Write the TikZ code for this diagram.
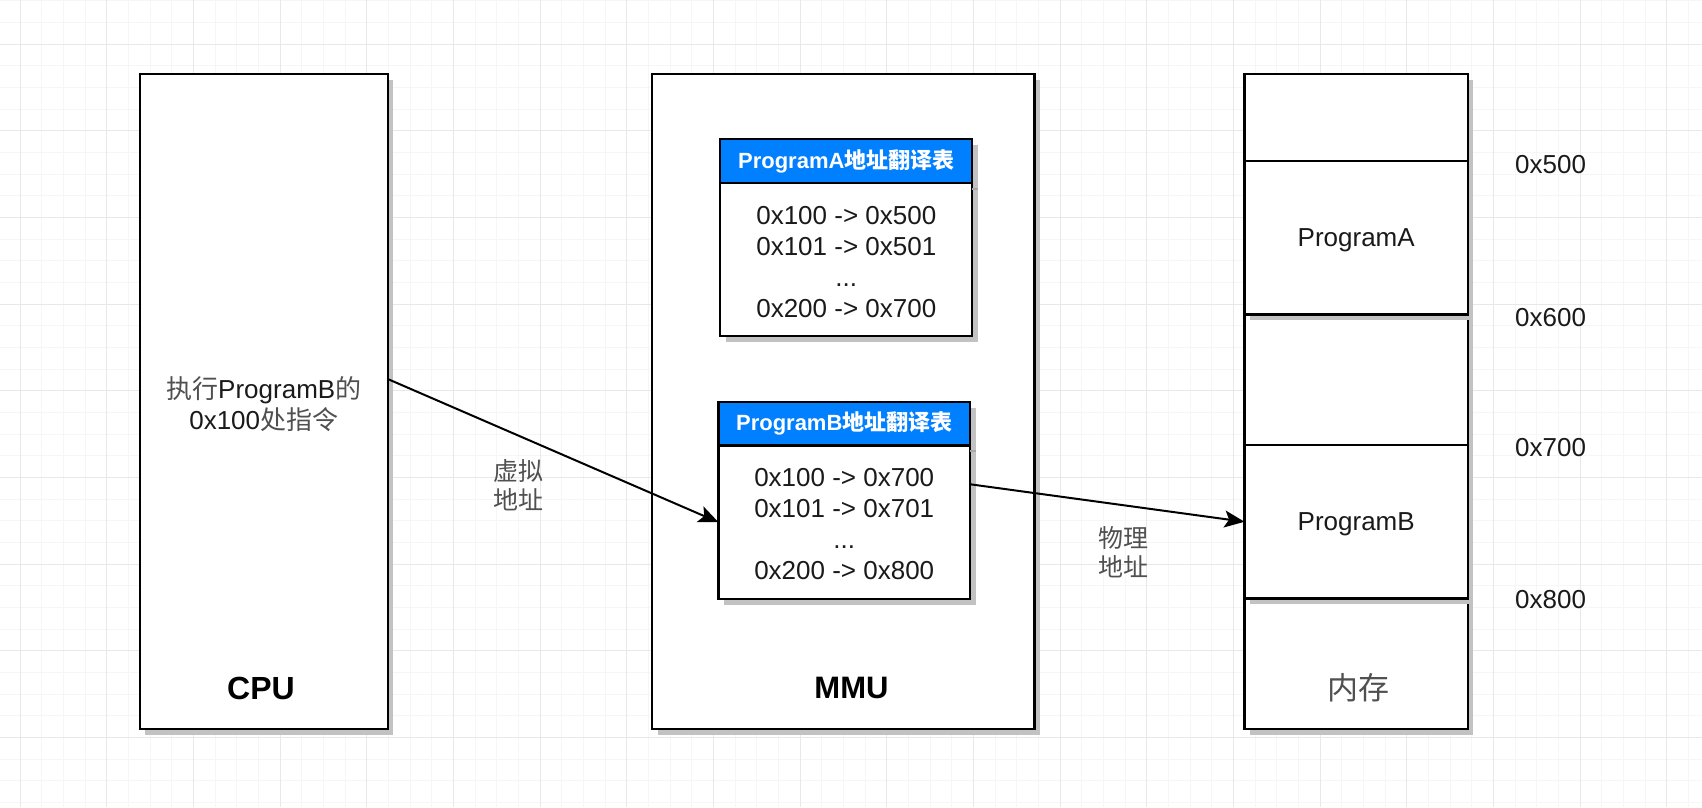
\documentclass[tikz,border=0pt]{standalone}
\usepackage{fontspec}
\setmainfont{Liberation Sans}
\newfontfamily\cjk{Noto Sans CJK SC}
\usetikzlibrary{arrows.meta,shadows,calc}
\definecolor{gridminor}{HTML}{F6F6F6}
\definecolor{gridmajor}{HTML}{E8E8E8}
\definecolor{shadowgray}{HTML}{C2C2C2}
\definecolor{hdrblue}{HTML}{007FFF}
\definecolor{txt}{HTML}{1A1A1A}
\definecolor{cjkgray}{HTML}{505050}
\newcommand{\myfs}[2]{\fontsize{#1}{#2}\selectfont}
\newcommand{\zh}[1]{{\color{cjkgray}\cjk #1}}
\begin{document}
\begin{tikzpicture}[x=1pt,y=-1pt,
  minorline/.style={draw=gridminor,line width=1pt},
  majorline/.style={draw=gridmajor,line width=1pt},
  box/.style={draw=black,line width=2.2pt,fill=white,inner sep=0pt,outer sep=0pt,
    general shadow={fill=shadowgray,shadow xshift=5.5pt,shadow yshift=-5.5pt}},
  hdr/.style={box,fill=hdrblue,text=white,font=\bfseries\myfs{22}{26}},
  rows/.style={align=center,text=txt,font=\myfs{26}{31},inner sep=0pt},
  plain/.style={text=txt,font=\myfs{26}{31},inner sep=0pt},
  big/.style={text=black,font=\bfseries\myfs{32}{36},inner sep=0pt},
  conn/.style={line width=2pt,draw=black,-{Stealth[length=20pt,width=17pt,inset=4.5pt]}}
]
\useasboundingbox (0,0) rectangle (1702,807);
\fill[white] (0,0) rectangle (1702,807);
% grid
\foreach \i in {0,...,79} \draw[minorline] ({-1.667+21.667*\i},0) -- ({-1.667+21.667*\i},807);
\foreach \i in {0,...,37} \draw[minorline] (0,{0.667+21.667*\i}) -- (1702,{0.667+21.667*\i});
\foreach \i in {0,...,19} \draw[majorline] ({20+86.667*\i},0) -- ({20+86.667*\i},807);
\foreach \i in {0,...,8} \draw[majorline] (0,{44+86.667*\i}) -- (1702,{44+86.667*\i});

% CPU
\node[box,minimum width=248pt,minimum height=655pt] (cpu) at (263.75,401.5) {};
\node[plain,align=center] (cputxt) at (263.75,404) {\zh{执行}ProgramB\zh{的}\\0x100\zh{处指令}};
\node[big] (cpulbl) at (261,688) {CPU};

% MMU
\node[box,minimum width=382.5pt,minimum height=655pt] (mmu) at (843.25,401.5) {};
\node[big,font=\bfseries\myfs{31}{36}] (mmulbl) at (851.5,688) {MMU};

% Table A
\node[hdr,minimum width=252pt,minimum height=44pt] (hdrA) at (846.3,161.3) {ProgramA{\cjk 地址翻译表}};
\node[box,minimum width=252pt,minimum height=152.7pt] (bodyA) at (846.3,259.65) {};
\draw[draw=gray!70,line width=2pt] ([yshift=-5.5pt]hdrA.south east) -- ++(5.5,0);
\node[rows] (rowsA) at ([yshift=-2pt]bodyA.center) {0x100 -> 0x500\\0x101 -> 0x501\\...\\0x200 -> 0x700};

% Table B
\node[hdr,minimum width=251.5pt,minimum height=43.5pt] (hdrB) at (844.25,423.75) {ProgramB{\cjk 地址翻译表}};
\node[box,minimum width=251.5pt,minimum height=153.5pt] (bodyB) at (844.25,522.25) {};
\draw[draw=gray!70,line width=2pt] ([yshift=-5.5pt]hdrB.south east) -- ++(5.5,0);
\node[rows] (rowsB) at ([yshift=-2pt]bodyB.center) {0x100 -> 0x700\\0x101 -> 0x701\\...\\0x200 -> 0x800};

% Memory column
\node[box,minimum width=223.5pt,minimum height=130.5pt] (membot) at (1356.2,663.75) {};
\node[box,minimum width=223.5pt,minimum height=130.5pt] (memmid) at (1356.2,379.75) {};
\node[box,minimum width=223.5pt,minimum height=153.5pt] (progB) at (1356.2,521.75) {};
\node[box,minimum width=223.5pt,minimum height=87pt] (memtop) at (1356.2,117.5) {};
\node[box,minimum width=223.5pt,minimum height=153.5pt] (progA) at (1356.2,237.75) {};
\node[plain] (progAtxt) at ([yshift=-2pt]progA.center) {ProgramA};
\node[plain] (progBtxt) at ([yshift=-2pt]progB.center) {ProgramB};
\node[inner sep=0pt,text=cjkgray,font=\cjk\myfs{31}{36}] (memlbl) at (1358,688) {内存};

% addresses
\node[plain,anchor=west] (a500) at (1515,165) {0x500};
\node[plain,anchor=west] (a600) at (1515,317.7) {0x600};
\node[plain,anchor=west] (a700) at (1515,448) {0x700};
\node[plain,anchor=west] (a800) at (1515,600) {0x800};

% connectors
\draw[conn] ([yshift=22.5pt]cpu.east) -- (bodyB.west);
\draw[conn] ([yshift=38pt]bodyB.east) -- (progB.west);
\node[inner sep=0pt,align=center,text=cjkgray,font=\cjk\myfs{25}{29}] (vlbl) at (518,485) {虚拟\\地址};
\node[inner sep=0pt,align=center,text=cjkgray,font=\cjk\myfs{25}{29}] (plbl) at (1123,552.5) {物理\\地址};
\end{tikzpicture}
\end{document}
